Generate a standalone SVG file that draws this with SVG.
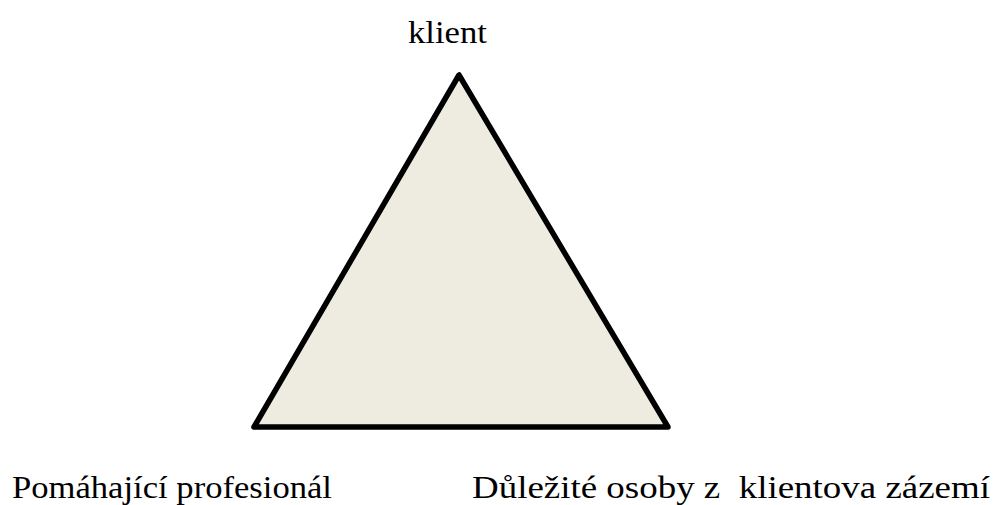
<svg xmlns="http://www.w3.org/2000/svg" width="1000" height="505" viewBox="0 0 1000 505">
<style>
.tri{fill:#EEEBE1;stroke:#000;stroke-width:5.5;stroke-linejoin:round}
.lbl{font-family:"Liberation Serif","DejaVu Serif","Noto Serif","Tinos","Times New Roman","Nimbus Roman","Nimbus Roman No9 L","FreeSerif","Georgia","Palatino Linotype","URW Palladio L",serif;font-size:31px;fill:#000}
</style>
<rect width="1000" height="505" fill="#fff"/>
<g id="triangle">
<polygon class="tri" points="459,75 254,427 668,427"/>
</g>
<g id="klient"><text class="lbl" x="408" y="43" textLength="79" lengthAdjust="spacingAndGlyphs">klient</text></g>
<g id="profesional"><text class="lbl" x="12" y="498" textLength="320" lengthAdjust="spacingAndGlyphs">Pomáhající profesionál</text></g>
<g id="osoby"><text class="lbl" x="472" y="498" textLength="518" lengthAdjust="spacingAndGlyphs" xml:space="preserve">Důležité osoby z  klientova zázemí</text></g>
<g id="connectors"></g>
</svg>
